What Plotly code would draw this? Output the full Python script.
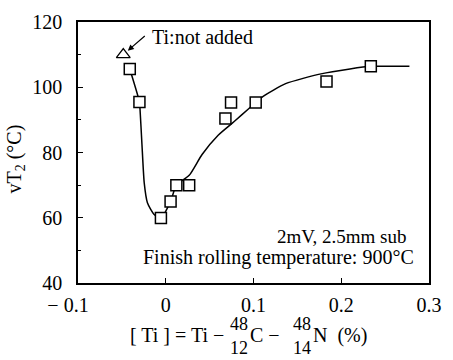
import plotly.graph_objects as go

# Measured points: [Ti] (%) vs vT2 (°C)
ti_sq = [-0.041, -0.030, -0.0055, 0.0055, 0.0121, 0.0267, 0.068, 0.0744, 0.1025, 0.1832, 0.2337]
vt2_sq = [105.6, 95.5, 59.9, 65.0, 70.0, 70.0, 90.4, 95.3, 95.3, 101.8, 106.4]

# Reference steel without Ti addition
ti_tri = [-0.0484]
vt2_tri = [110.0]

# Hand-drawn trend curve
curve_x = [-0.041, -0.030, -0.0293, -0.0271, -0.0245, -0.0209, -0.0135, -0.0055,
           0.0055, 0.0121, 0.0267, 0.0414, 0.0597, 0.0780, 0.0945, 0.1110,
           0.1366, 0.1769, 0.2099, 0.2337, 0.2777]
curve_y = [105.6, 95.5, 93.2, 82.4, 70.6, 64.6, 61.1, 59.9,
           65.0, 70.0, 73.0, 79.4, 85.3, 89.5, 93.4, 97.2,
           101.1, 104.1, 105.6, 106.4, 106.4]

x_ticks = [-0.1, 0, 0.1, 0.2, 0.3]
x_labels = ["\u2212 0.1\u2003", "0", "0.1", "0.2", "0.3"]
y_ticks = [40, 60, 80, 100, 120]

FONT = "Liberation Serif"

fig = go.Figure()
fig.add_trace(go.Scatter(x=curve_x, y=curve_y, mode="lines",
                         line=dict(color="black", width=1.5, shape="spline", smoothing=0.6),
                         hoverinfo="skip", showlegend=False))
fig.add_trace(go.Scatter(x=ti_sq, y=vt2_sq, mode="markers",
                         marker=dict(symbol="square", size=11, color="white",
                                     line=dict(color="black", width=1.5)),
                         showlegend=False))
fig.add_trace(go.Scatter(x=ti_tri, y=vt2_tri, mode="markers",
                         marker=dict(symbol="triangle-up", size=12, color="white",
                                     line=dict(color="black", width=1.3)),
                         showlegend=False))

axis_common = dict(showline=True, linecolor="black", linewidth=1.5, mirror=True,
                   ticks="inside", ticklen=5, tickcolor="black", tickwidth=1,
                   showgrid=False, zeroline=False,
                   tickfont=dict(family=FONT, size=20, color="black"))

fig.update_xaxes(range=[-0.1, 0.3], tickvals=x_ticks, ticktext=x_labels,
                 ticklabelstandoff=3, **axis_common)
fig.update_yaxes(range=[40, 120], tickvals=y_ticks, ticklabelstandoff=10,
                 minor=dict(dtick=10, ticks="inside", ticklen=3, tickcolor="black"),
                 **axis_common)

def px_x(p):
    return (p - 78) / 364

def px_y(p):
    return (283 - p) / 270

tf = dict(family=FONT, size=20, color="black")
ff = dict(family=FONT, size=18, color="black")

ann = []
# Arrow to the Ti-free point
ann.append(dict(x=ti_tri[0], y=vt2_tri[0], xref="x", yref="y", text="",
                showarrow=True, ax=23, ay=-20, arrowhead=2, arrowsize=1,
                arrowwidth=1.2, arrowcolor="black", standoff=6))
ann.append(dict(x=px_x(153), y=px_y(28), xref="paper", yref="paper",
                text="Ti:not added", showarrow=False, xanchor="left", yanchor="middle",
                font=tf))
ann.append(dict(x=px_x(421), y=px_y(235), xref="paper", yref="paper",
                text="2mV, 2.5mm sub", showarrow=False, xanchor="right", yanchor="middle",
                font=dict(family=FONT, size=19, color="black")))
ann.append(dict(x=px_x(429), y=px_y(257), xref="paper", yref="paper",
                text="Finish rolling temperature: 900°C", showarrow=False,
                xanchor="right", yanchor="middle", font=tf))
# Y-axis title
ann.append(dict(x=px_x(13), y=px_y(155), xref="paper", yref="paper",
                text="vT<sub>2</sub> (°C)", textangle=-90, showarrow=False,
                xanchor="center", yanchor="middle", font=tf))
# X-axis title with stacked fractions
ann.append(dict(x=px_x(231), y=px_y(337), xref="paper", yref="paper", text="[ Ti ] = Ti \u2212",
                showarrow=False, xanchor="right", yanchor="middle", font=tf))
ann.append(dict(x=px_x(245), y=px_y(325), xref="paper", yref="paper", text="48",
                showarrow=False, xanchor="center", yanchor="middle", font=ff))
ann.append(dict(x=px_x(245), y=px_y(350), xref="paper", yref="paper", text="12",
                showarrow=False, xanchor="center", yanchor="middle", font=ff))
ann.append(dict(x=px_x(254), y=px_y(337), xref="paper", yref="paper", text="C \u2212",
                showarrow=False, xanchor="left", yanchor="middle", font=tf))
ann.append(dict(x=px_x(310), y=px_y(325), xref="paper", yref="paper", text="48",
                showarrow=False, xanchor="center", yanchor="middle", font=ff))
ann.append(dict(x=px_x(310), y=px_y(350), xref="paper", yref="paper", text="14",
                showarrow=False, xanchor="center", yanchor="middle", font=ff))
ann.append(dict(x=px_x(320), y=px_y(337), xref="paper", yref="paper", text="N  (%)",
                showarrow=False, xanchor="left", yanchor="middle", font=tf))

fig.update_layout(width=453, height=360, margin=dict(l=78, r=11, t=13, b=77),
                  paper_bgcolor="white", plot_bgcolor="white",
                  font=dict(family=FONT, size=20, color="black"),
                  annotations=ann, showlegend=False)

fig.write_html("out.html")
